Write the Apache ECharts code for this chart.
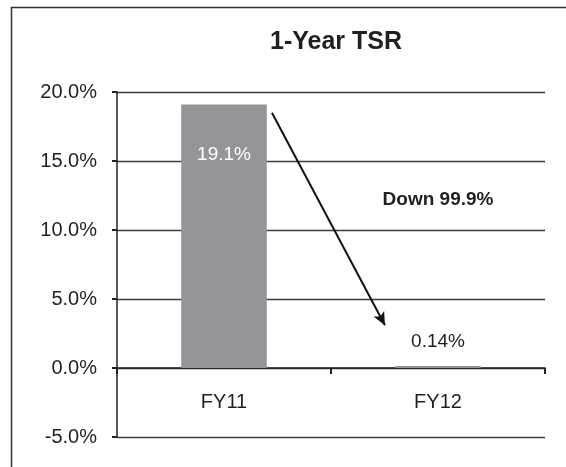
<!DOCTYPE html>
<html>
<head>
<meta charset="utf-8">
<script src="https://cdn.jsdelivr.net/npm/echarts@6/dist/echarts.min.js"></script>
<style>
  html, body { margin: 0; padding: 0; background: #fff; }
  #main { width: 566px; height: 467px; }
</style>
</head>
<body>
<div id="main"></div>
<script>
const categories = ['FY11', 'FY12'];
const tsrValues = [19.1, 0.14];
const barLabels = ['19.1%', '0.14%'];
const yTicks = { min: -5, max: 20, step: 5 };
// arrow: [category position, value %]
const arrowFrom = [0.224, 18.5];
const arrowTo = [0.752, 3.1];
const noteText = 'Down 99.9%';
const notePos = ['FY12', 12.2];

const font = 'Liberation Sans, Arial, Helvetica, sans-serif';
const ink = '#231f20';

const chart = echarts.init(document.getElementById('main'));

const option = {
  animation: false,
  textStyle: { fontFamily: font },
  title: {
    text: '1-Year TSR',
    left: 331,
    top: 25,
    textAlign: 'center',
    textStyle: { fontSize: 25, fontWeight: 'bold', color: ink, fontFamily: font }
  },
  grid: { left: 117, right: 21, top: 92, bottom: 30, outerBoundsMode: 'none' },
  xAxis: {
    type: 'category',
    data: categories,
    position: 'bottom',
    offset: -69,
    axisLine: { onZero: false, lineStyle: { color: ink, width: 1.5 } },
    axisTick: { show: true, length: 6, lineStyle: { color: ink, width: 2 } },
    axisLabel: { margin: 24, fontSize: 20, color: ink, fontFamily: font }
  },
  yAxis: {
    type: 'value',
    min: yTicks.min,
    max: yTicks.max,
    interval: yTicks.step,
    axisLine: { show: true, lineStyle: { color: ink, width: 1.5 } },
    axisTick: { show: true, length: 5, lineStyle: { color: ink, width: 2 } },
    axisLabel: {
      margin: 20, fontSize: 20, color: ink, fontFamily: font,
      formatter: v => v.toFixed(1) + '%'
    },
    splitLine: { lineStyle: { color: '#3c3c3c', width: 1.3 } }
  },
  series: [{
    type: 'bar',
    data: tsrValues,
    barWidth: '40%',
    itemStyle: { color: '#939598' },
    label: {
      show: true,
      fontSize: 19,
      fontFamily: font,
      formatter: p => barLabels[p.dataIndex],
      position: 'top',
      distance: 15,
      color: ink
    },
    markPoint: {
      symbol: 'rect',
      symbolSize: 2,
      itemStyle: { color: 'rgba(0,0,0,0)' },
      data: [{ coord: notePos }],
      label: {
        show: true,
        position: 'inside',
        formatter: noteText,
        fontSize: 19,
        fontWeight: 'bold',
        color: ink,
        fontFamily: font
      }
    }
  }]
};
// first bar: white label inside
option.series[0].data = tsrValues.map((v, i) => i === 0 ? {
  value: v,
  label: { position: 'insideTop', distance: 41, color: '#ffffff' }
} : v);

chart.setOption(option);

// arrow via the chart's own scales
function toPixel(pt) {
  const c0 = chart.convertToPixel({ xAxisIndex: 0, yAxisIndex: 0 }, [0, pt[1]]);
  const c1 = chart.convertToPixel({ xAxisIndex: 0, yAxisIndex: 0 }, [1, pt[1]]);
  return [c0[0] + (c1[0] - c0[0]) * pt[0], c0[1]];
}
const p0 = toPixel(arrowFrom);
const p1 = toPixel(arrowTo);

chart.setOption({
  series: [{
    markLine: {
      silent: true,
      symbol: ['none', 'arrow'],
      symbolSize: [9, 13],
      label: { show: false },
      lineStyle: { color: '#111', width: 2, type: 'solid' },
      data: [[{ x: p0[0], y: p0[1] }, { x: p1[0], y: p1[1] }]]
    }
  }],
  graphic: [{
    type: 'rect',
    left: 9, top: 5,
    shape: { width: 600, height: 500 },
    style: { fill: 'none', stroke: '#333', lineWidth: 1.5 },
    silent: true
  }]
});
</script>
</body>
</html>
